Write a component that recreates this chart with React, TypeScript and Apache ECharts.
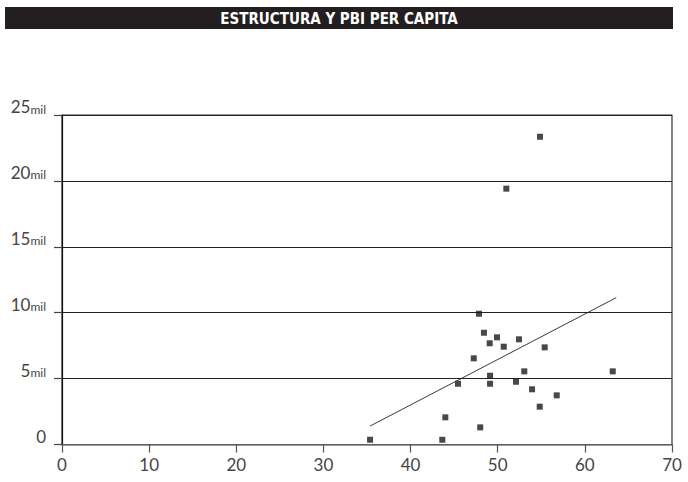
import React, { useEffect, useRef } from "react";
import * as echarts from "echarts";

const titleText = "ESTRUCTURA Y PBI PER CAPITA";

// Estructura (x) and PBI per capita (y, in units)
const estructura = [
  54.85, 50.99, 47.85, 48.42, 49.92, 49.08, 50.69, 52.44, 55.39, 47.25, 53.05, 63.2,
  49.12, 45.44, 49.12, 52.1, 53.94, 56.77, 54.82, 43.99, 47.99, 35.35, 43.64,
];
const pbiPerCapita = [
  23350, 19410, 9920, 8480, 8130, 7680, 7420, 7980, 7370, 6540, 5550, 5550,
  5220, 4610, 4610, 4760, 4190, 3730, 2870, 2060, 1300, 360, 360,
];

// Trend line endpoints
const trendX = [35.35, 63.6];
const trendY = [1400, 11140];

const xTicks = { min: 0, max: 70, interval: 10 };
const yTicks = { min: 0, max: 25000, interval: 5000 };

export default function App() {
  const ref = useRef<HTMLDivElement>(null);

  useEffect(() => {
    if (!ref.current) return;
    const chart = echarts.init(ref.current, null, { renderer: "svg" });
    const labelFont = "Lato, 'Open Sans', sans-serif";
    chart.setOption({
      animation: false,
      backgroundColor: "#ffffff",
      graphic: [
        {
          type: "rect",
          shape: { x: 5, y: 7, width: 668, height: 22 },
          style: { fill: "#231f20" },
        },
        {
          type: "text",
          x: 339,
          y: 18.5,
          style: {
            text: titleText,
            fill: "#ffffff",
            font: "bold 15px 'Liberation Sans Narrow', 'DejaVu Sans Condensed', sans-serif",
            textAlign: "center",
            textVerticalAlign: "middle",
          },
        },
      ],
      grid: {
        left: 62,
        right: 16,
        top: 115,
        bottom: 37.5,
        show: true,
        borderColor: "#333",
        borderWidth: 1.2,
      },
      xAxis: {
        type: "value",
        min: xTicks.min,
        max: xTicks.max,
        interval: xTicks.interval,
        axisLine: { show: true, lineStyle: { color: "#777", width: 1.5 } },
        axisTick: { show: true, length: 8, lineStyle: { color: "#555", width: 1.2 } },
        splitLine: { show: false },
        axisLabel: {
          margin: 11,
          color: "#444",
          fontSize: 17,
          fontFamily: labelFont,
        },
      },
      yAxis: {
        type: "value",
        min: yTicks.min,
        max: yTicks.max,
        interval: yTicks.interval,
        axisLine: { show: true, lineStyle: { color: "#111", width: 1.2 } },
        axisTick: { show: true, length: 8, lineStyle: { color: "#444", width: 1.2 } },
        splitLine: { show: true, lineStyle: { color: "#222", width: 1.2 } },
        axisLabel: {
          margin: 16,
          color: "#444",
          verticalAlign: "bottom",
          formatter: (v: number) =>
            v === 0 ? "{n|0}" : `{n|${v / 1000}}{m|mil}`,
          rich: {
            n: {
              fontSize: 17,
              fontFamily: labelFont,
              color: "#444",
              lineHeight: 18,
              verticalAlign: "bottom",
            },
            m: {
              fontSize: 12,
              fontFamily: labelFont,
              color: "#444",
              lineHeight: 18,
              verticalAlign: "bottom",
            },
          },
        },
      },
      series: [
        {
          type: "line",
          data: trendX.map((x, i) => [x, trendY[i]]),
          symbol: "none",
          lineStyle: { color: "#222", width: 0.9 },
          z: 2,
        },
        {
          type: "scatter",
          data: estructura.map((x, i) => [x, pbiPerCapita[i]]),
          symbol: "rect",
          symbolSize: 6,
          itemStyle: { color: "#1a1a1a" },
          z: 3,
        },
      ],
    });
    return () => chart.dispose();
  }, []);

  return (
    <div
      ref={ref}
      style={{ position: "fixed", left: 0, top: 0, width: 688, height: 482 }}
    />
  );
}
